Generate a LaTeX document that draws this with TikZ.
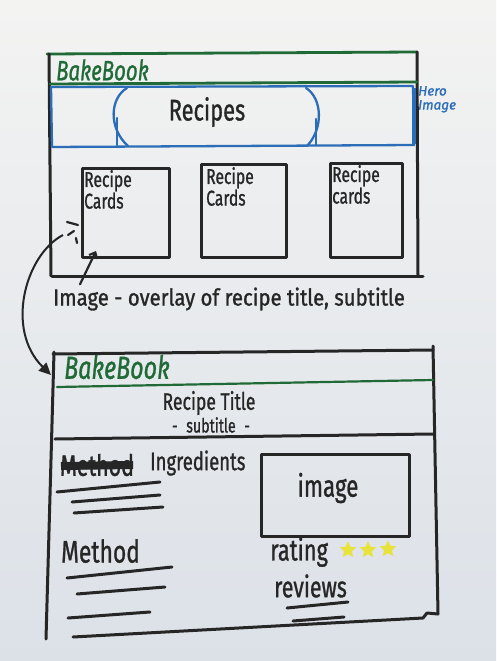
\documentclass[tikz,border=0pt]{standalone}
\usepackage{fontspec}
\setmainfont{Fira Sans}[UprightFeatures={FakeBold=1.2}, ItalicFeatures={FakeBold=1.2}]
\usetikzlibrary{arrows.meta,shapes.geometric,calc}

\definecolor{paperTop}{HTML}{F3F3F2}
\definecolor{paperBot}{HTML}{DCE1E8}
\definecolor{ink}{HTML}{262626}
\definecolor{bookgreen}{HTML}{1F6A36}
\definecolor{heroblue}{HTML}{2B6DB6}
\definecolor{staryellow}{HTML}{E8E23C}

% marker-style handwriting: narrow, tall letters
\newcommand{\hw}[1]{\scalebox{0.95}[1.3]{#1}}

\tikzset{
  pen/.style={draw=ink, line width=3pt, line cap=round, line join=round},
  finepen/.style={draw=ink, line width=2.2pt, line cap=round},
  greenpen/.style={draw=bookgreen, line width=2.8pt, line cap=round},
  bluepen/.style={draw=heroblue, line width=2.3pt, line cap=round, line join=round},
  words/.style={text=ink, inner sep=0pt},
  brand/.style={text=bookgreen, inner sep=0pt, font=\fontsize{21.5}{22}\selectfont\itshape},
  cardbox/.style={pen, minimum width=87, minimum height=89, anchor=north west, inner sep=0pt},
  cardtext/.style={words, anchor=north west, align=left, font=\fontsize{16.5}{16.5}\selectfont},
  starmark/.style={star, star points=5, star point ratio=2.1, minimum size=14, inner sep=0pt,
    draw=staryellow, fill=staryellow, line width=1.4pt}
}

\begin{document}
\begin{tikzpicture}[x=1pt,y=-1pt]
  % paper
  \shade[top color=paperTop, bottom color=paperBot] (0,0) rectangle (496,661);
  \useasboundingbox (0,0) rectangle (496,661);

  % ---------- home page ----------
  \coordinate (h-tl) at (47,54);
  \coordinate (h-tr) at (417,52);
  \draw[greenpen] (h-tl) -- (h-tr);
  \draw[pen] (49,54) -- (51,276);
  \draw[pen] (h-tr) -- (418,276);
  \draw[pen] (52,276) -- (423,276);
  \draw[greenpen] (50,84) -- (417,82);
  \node[brand, anchor=west] (brand1) at (56,70) {\hw{BakeBook}};

  % hero band
  \draw[bluepen] (51,87) -- (413,86) -- (414,145) -- (52,147) -- cycle;
  \draw[heroblue, line width=3.2pt] (414,88) -- (414,144);
  \draw[bluepen] (127,88) .. controls (110,98) and (108,128) .. (128,146);
  \draw[bluepen] (117,118) -- (117,145);
  \draw[bluepen] (306,88) .. controls (322,98) and (324,128) .. (307,146);
  \draw[bluepen] (316,119) -- (316,145);
  \node[words, font=\fontsize{23}{23}\selectfont] (recipes) at (207,112) {\hw{Recipes}};
  \node[text=heroblue, inner sep=0pt, anchor=north west, align=left,
        font=\fontsize{13.5}{14}\selectfont\itshape] (hero) at (418,86) {Hero\\Image};

  % recipe cards
  \node[cardbox] (card1) at (81,167) {};
  \node[cardbox, minimum width=85, minimum height=93] (card2) at (200,163) {};
  \node[cardbox, minimum width=72, minimum height=94] (card3) at (329,162) {};
  \node[cardtext] (c1t) at ($(card1.north west)+(3,3)$) {\hw{Recipe}\\\hw{Cards}};
  \node[cardtext] (c2t) at ($(card2.north west)+(6,4)$) {\hw{Recipe}\\\hw{Cards}};
  \node[cardtext] (c3t) at ($(card3.north west)+(3,3)$) {\hw{Recipe}\\\hw{cards}};

  % motion marks beside the first card
  \draw[finepen] (67,222) -- (78,225);
  \draw[finepen] (68,235) -- (74,231);
  \draw[finepen] (76,238) -- (77,243);

  \node[words, anchor=west, font=\fontsize{18.5}{18.5}\selectfont] (caption) at (53,299)
    {\scalebox{1.1}[1.25]{Image - overlay of recipe title, subtitle}};
  \coordinate (cardtip) at ($(card1.south west)+(15,-8)$);
  \draw[finepen, -{Straight Barb[length=5pt, width=9pt]}] ($(caption.north west)+(27,-3)$) -- (cardtip);

  % ---------- recipe page ----------
  \coordinate (swish) at (63,235);
  \coordinate (r-tl) at (53,354);
  \coordinate (r-tr) at (433,350);
  \draw[ink, line width=2pt, -{Triangle[length=12pt, width=11pt]}]
    (swish) .. controls (25,255) and (5,330) .. ($(r-tl)+(-2,21)$);

  \draw[pen] (r-tl) -- (r-tr);
  \draw[pen] (54,352) -- (46,639);
  \draw[pen] (433,346) -- (438,614) -- (427,613) -- (423,618) -- (73,637);
  \draw[greenpen, line width=2.2pt] (57,387) -- (433,380);
  \node[brand, anchor=west, font=\fontsize{24.5}{25}\selectfont\itshape] (brand2) at (64,367) {\hw{BakeBook}};
  \draw[pen] (55,439) -- (433,434);

  \node[words, font=\fontsize{18.5}{18.5}\selectfont] (rtitle) at (209,403) {\hw{Recipe Title}};
  \node[words, font=\fontsize{15}{15}\selectfont] (rsub) at (211,425) {\hw{-\hspace{0.6em}subtitle\hspace{0.6em}-}};

  % ingredients
  \node[words, anchor=west, font=\fontsize{22.5}{22.5}\selectfont] (struck) at (60,465) {\hw{Method}};
  \draw[ink, line width=8pt] ($(struck.west)+(1,1)$) -- ($(struck.east)+(-1,0)$);
  \node[words, anchor=west, font=\fontsize{19.5}{19.5}\selectfont] (ingr) at (150,463) {\hw{Ingredients}};
  \draw[pen] (57,492) -- (160,482);
  \draw[pen] (72,502) -- (160,495);
  \draw[pen] (74,513) -- (163,507);

  % image box
  \node[pen, minimum width=148, minimum height=82, anchor=north west, inner sep=0pt] (imgbox) at (260,453) {};
  \node[words, font=\fontsize{23.5}{23.5}\selectfont] (imgtxt) at (328,488) {\hw{image}};

  % method
  \node[words, anchor=west, font=\fontsize{24}{24}\selectfont] (method) at (61,551) {\hw{Method}};
  \draw[pen] (67,578) -- (172,567);
  \draw[pen] (77,594) -- (165,587);
  \draw[pen] (68,618) -- (150,612);

  % rating and reviews
  \node[words, anchor=west, font=\fontsize{23}{23}\selectfont] (rating) at (270,552) {\hw{rating}};
  \node[starmark] (star1) at (348,550) {};
  \node[starmark] (star2) at (368,550) {};
  \node[starmark] (star3) at (388,549) {};
  \node[words, anchor=west, font=\fontsize{22.5}{22.5}\selectfont] (reviews) at (274,586) {\hw{reviews}};
  \draw[pen] (287,608) -- (348,602);
  \draw[pen] (293,621) -- (344,617);
\end{tikzpicture}
\end{document}
